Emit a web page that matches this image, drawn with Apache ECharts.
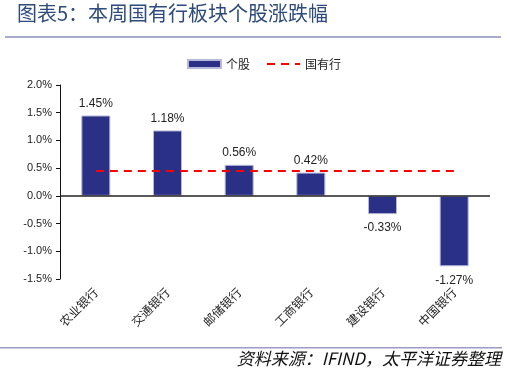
<!DOCTYPE html>
<html>
<head>
<meta charset="utf-8">
<script src="https://cdn.jsdelivr.net/npm/echarts@6/dist/echarts.min.js"></script>
<style>
html,body{margin:0;padding:0;background:#fff;}
#chart{width:507px;height:375px;}
</style>
</head>
<body>
<div id="chart"></div>
<script>
// 数据
var banks = ['农业银行', '交通银行', '邮储银行', '工商银行', '建设银行', '中国银行'];
var stockChange = [1.45, 1.18, 0.56, 0.42, -0.33, -1.27];
var sectorChange = [0.45, 0.45, 0.45, 0.45, 0.45, 0.45];

var titleText = '图表5：本周国有行板块个股涨跌幅';
var sourceText = '资料来源：IFIND，太平洋证券整理';

var chart = echarts.init(document.getElementById('chart'));

var option = {
    animation: false,
    textStyle: {fontFamily: 'Liberation Sans, Noto Sans CJK SC'},
    graphic: [
        {type: 'text', left: 17, top: 3,
            style: {text: titleText, fill: '#2E4B7C', font: '20px "Noto Sans CJK SC"'}},
        {type: 'rect', shape: {x: 5, y: 36, width: 496, height: 2},
            style: {fill: '#A9ABCB'}},
        {type: 'rect', shape: {x: 0, y: 347, width: 502, height: 1.5},
            style: {fill: '#9A9CC4'}},
        {type: 'text', right: 6, top: 350,
            style: {text: sourceText, fill: '#111', font: 'italic 17px "Noto Sans CJK SC"'}}
    ],
    legend: {
        top: 53,
        left: 182,
        itemGap: 16,
        itemWidth: 33,
        itemHeight: 8,
        textStyle: {fontSize: 12, color: '#222', fontFamily: 'Noto Sans CJK SC'},
        data: [
            {name: '个股', icon: 'rect'},
            {name: '国有行', itemStyle: {opacity: 0}}
        ]
    },
    grid: {left: 60, right: 17, top: 85, bottom: 96},
    xAxis: {
        type: 'category',
        data: banks,
        axisLine: {show: false, onZero: false},
        axisTick: {show: false},
        axisLabel: {
            rotate: 45,
            margin: 11,
            fontSize: 12,
            color: '#222',
            fontFamily: 'Noto Sans CJK SC'
        }
    },
    yAxis: {
        type: 'value',
        min: -1.5,
        max: 2,
        interval: 0.5,
        axisLine: {show: true, lineStyle: {color: '#111', width: 1}},
        axisTick: {show: true, length: 4, lineStyle: {color: '#111'}},
        splitLine: {show: false},
        axisLabel: {
            fontSize: 11,
            color: '#222',
            margin: 8,
            formatter: function (v) { return v.toFixed(1) + '%'; }
        }
    },
    series: [
        {
            name: '个股',
            type: 'bar',
            data: stockChange,
            barWidth: 29,
            itemStyle: {color: '#2B3087', borderColor: '#B6B8D8', borderWidth: 1},
            label: {
                show: true,
                fontSize: 12,
                color: '#222',
                distance: 6,
                position: 'top',
                formatter: function (p) { return p.value.toFixed(2) + '%'; }
            },
            markLine: {
                silent: true,
                symbol: 'none',
                label: {show: false},
                lineStyle: {color: '#222', type: 'solid', width: 1.5},
                data: [{yAxis: 0}]
            }
        },
        {
            name: '国有行',
            type: 'line',
            data: sectorChange,
            symbol: 'none',
            lineStyle: {color: '#FF0000', type: [8, 6], width: 2},
            itemStyle: {color: '#FF0000'},
            z: 5
        }
    ]
};

// 负值标签放在柱子下方
option.series[0].data = stockChange.map(function (v) {
    return v < 0 ? {value: v, label: {position: 'bottom', distance: 8}} : v;
});

chart.setOption(option);
</script>
</body>
</html>
